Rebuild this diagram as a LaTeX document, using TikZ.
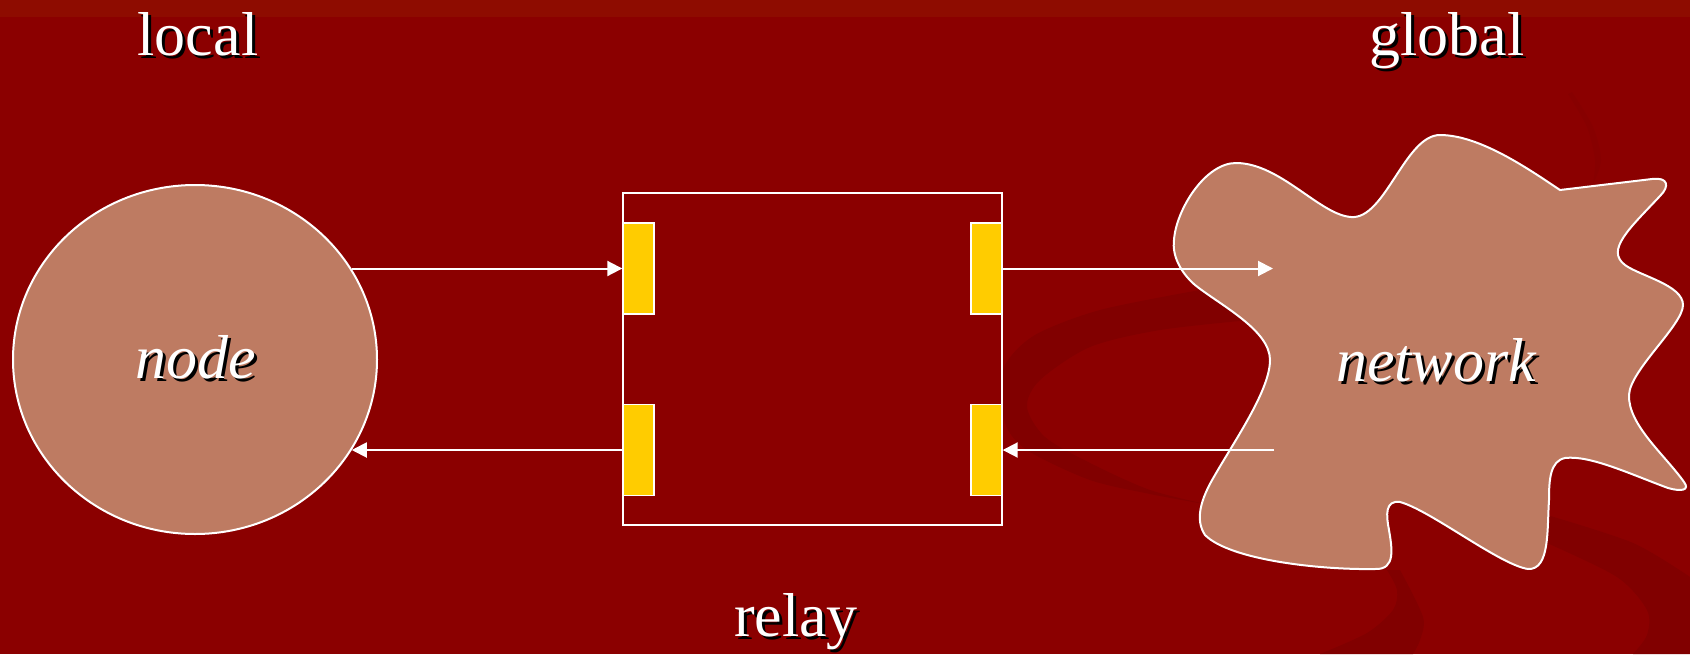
\documentclass[tikz,border=0pt]{standalone}
\usepackage{fontspec}
\setmainfont{Liberation Serif}
\usetikzlibrary{shapes.geometric,arrows.meta}
\definecolor{bgred}{RGB}{139,0,0}
\definecolor{topred}{RGB}{142,12,0}
\definecolor{swoosh}{RGB}{129,0,0}
\definecolor{swooshlight}{RGB}{135,0,0}
\definecolor{blobc}{RGB}{190,123,98}
\definecolor{portyel}{RGB}{255,204,0}
\newcommand\shd[1]{\rlap{\kern3pt\raisebox{-3pt}{\color{black}#1}}#1}
\tikzset{
  lbl/.style={text=white, inner sep=0pt, anchor=base, font=\fontsize{62}{70}\selectfont},
  ilbl/.style={lbl, font=\fontsize{62}{70}\selectfont\itshape},
  yport/.style={draw=white, line width=1.4pt, fill=portyel, minimum width=31pt, minimum height=91pt, inner sep=0pt},
  rbox/.style={draw=white, line width=2pt, minimum width=379pt, minimum height=332pt, inner sep=0pt},
  outl/.style={draw=white, line width=2pt, fill=blobc},
  arr/.style={draw=white, line width=2pt, -{Triangle[length=15pt,width=15pt]}},
}
\begin{document}
\begin{tikzpicture}[x=1pt,y=-1pt]
\useasboundingbox (0,0) rectangle (1690,654);
% background
\fill[bgred] (0,0) rectangle (1690,654);
\fill[topred] (0,0) rectangle (1690,17);
% decorative swooshes
\fill[swoosh] plot[smooth] coordinates {(1200,290) (1100,310) (1035,335) (1005,365) (1001,400) (1008,430) (1030,452) (1090,480) (1150,494) (1210,505)}
  -- plot[smooth] coordinates {(1210,505) (1150,490) (1090,463) (1045,437) (1027,407) (1040,380) (1090,347) (1160,330) (1250,320)} -- cycle;
\fill[swoosh] plot[smooth] coordinates {(1387,570) (1397,590) (1393,610) (1367,633) (1320,654)}
  -- plot[smooth] coordinates {(1413,654) (1420,640) (1423,617) (1400,570)} -- cycle;
\fill[swoosh] plot[smooth] coordinates {(1547,515) (1633,543) (1690,577)} -- (1690,654) -- (1633,654)
  -- plot[smooth] coordinates {(1633,654) (1647,635) (1647,610) (1617,577) (1547,543)} -- cycle;
\fill[swooshlight] plot[smooth] coordinates {(1572,92) (1593,127) (1601,160) (1593,184)}
  -- plot[smooth] coordinates {(1593,184) (1595,160) (1587,127) (1568,94)} -- cycle;
% relay
\node[rbox] (rl) at (812.5,359) {};
\node[yport] (p1) at (638.5,268.5) {};
\node[yport] (p2) at (638.5,450) {};
\node[yport] (p3) at (986.5,268.5) {};
\node[yport] (p4) at (986.5,450) {};
% local node
\node[ellipse, outl, minimum width=364pt, minimum height=349pt, inner sep=0pt] (nd) at (195,359.5) {};
% network blob
\path[outl] (1560,190) -- (1652,179)
  .. controls (1668,177) and (1670,186) .. (1660,196)
  .. controls (1630,228) and (1605,250) .. (1625,265)
  .. controls (1640,276) and (1683,285) .. (1683,305)
  .. controls (1683,325) and (1630,370) .. (1629,395)
  .. controls (1628,425) and (1665,455) .. (1684,482)
  .. controls (1690,490) and (1682,492) .. (1668,488)
  .. controls (1630,474) and (1590,455) .. (1565,458)
  .. controls (1550,461) and (1549,480) .. (1549,500)
  .. controls (1547,530) and (1550,570) .. (1528,569)
  .. controls (1500,565) and (1430,510) .. (1400,502)
  .. controls (1385,500) and (1386,515) .. (1389,530)
  .. controls (1392,548) and (1396,570) .. (1375,569)
  .. controls (1320,570) and (1230,560) .. (1205,535)
  .. controls (1195,520) and (1200,500) .. (1215,475)
  .. controls (1235,440) and (1270,390) .. (1270,360)
  .. controls (1270,330) and (1220,305) .. (1195,285)
  .. controls (1180,272) and (1172,255) .. (1174,240)
  .. controls (1176,210) and (1205,163) .. (1236,163)
  .. controls (1280,163) and (1320,215) .. (1351,217)
  .. controls (1385,220) and (1405,135) .. (1440,135)
  .. controls (1480,135) and (1530,170) .. (1560,190) -- cycle;
\coordinate (netin) at (1273,268.5);
\coordinate (netout) at (1274,450);
% connectors
\draw[arr] (p1.west -| nd.30.6) -- (p1.west);
\draw[arr] (p2.west) -- (p2.west -| nd.-30.3);
\draw[arr] (p3.east) -- (p3.east -| netin);
\draw[arr] (p4.east -| netout) -- (p4.east);
% labels
\node[lbl] (tlocal) at (198,55.5) {\shd{local}};
\node[lbl] (tglobal) at (1447,55.5) {\shd{global}};
\node[lbl] (trelay) at (796,636) {\shd{relay}};
\node[ilbl] (tnode) at (196,378) {\shd{node}};
\node[ilbl] (tnet) at (1436,381) {\shd{network}};
\end{tikzpicture}
\end{document}
